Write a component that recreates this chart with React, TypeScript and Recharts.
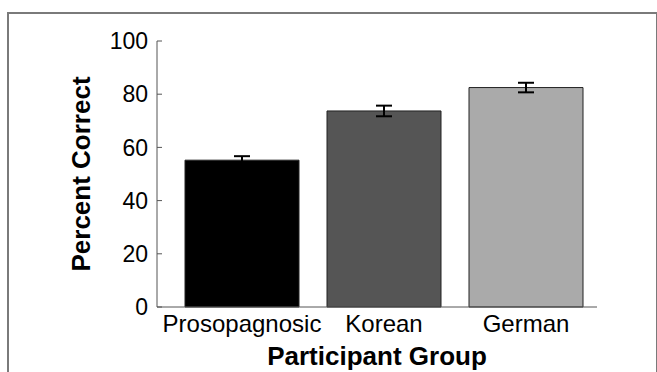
import { Bar, BarChart, Cell, ErrorBar, Label, XAxis, YAxis } from "recharts";

const groups = ["Prosopagnosic", "Korean", "German"];
const percentCorrect = [55.2, 73.7, 82.5];
const stdError = [1.5, 2.0, 1.8];
const barColors = ["#000000", "#555555", "#aaaaaa"];
const yTicks = [0, 20, 40, 60, 80, 100];

const data = groups.map((g, i) => ({ group: g, value: percentCorrect[i], err: stdError[i] }));

const font = "'Liberation Sans', Arial, sans-serif";

// y ticks: label on the left, short tick mark pointing into the plot
function YTick(props: any) {
  const { x, y, payload } = props;
  return (
    <g>
      <line x1={x + 9} x2={x + 14} y1={y} y2={y} stroke="#555" strokeWidth={1} />
      <text x={x} y={y} dy="0.355em" textAnchor="end" fontSize={23} fontFamily={font} fill="#000">
        {payload.value}
      </text>
    </g>
  );
}

function YTitle(props: any) {
  const { x, y, width, height } = props.viewBox;
  const cx = x + width - 76;
  const cy = y + height / 2;
  return (
    <text
      x={cx}
      y={cy}
      transform={`rotate(-90 ${cx} ${cy})`}
      textAnchor="middle"
      dominantBaseline="central"
      fontSize={26}
      fontWeight="bold"
      fontFamily={font}
      fill="#000"
    >
      Percent Correct
    </text>
  );
}

function XTitle(props: any) {
  const { x, y, width } = props.viewBox;
  return (
    <text
      x={x + width / 2}
      y={y + 49}
      textAnchor="middle"
      dominantBaseline="central"
      fontSize={26}
      fontWeight="bold"
      fontFamily={font}
      fill="#000"
    >
      Participant Group
    </text>
  );
}

export default function App() {
  return (
    <div style={{ position: "fixed", left: 0, top: 0, width: 657, height: 372, background: "#fff", overflow: "hidden" }}>
      <div
        style={{
          position: "absolute",
          left: 7,
          top: 12,
          width: 657 - 7 - 3,
          height: 400,
          borderTop: "2px solid #7a7a7a",
          borderLeft: "2px solid #7a7a7a",
          borderRight: "2px solid #7a7a7a",
        }}
      />
      <BarChart
        width={657}
        height={372}
        data={data}
        margin={{ top: 41, right: 60, bottom: 5, left: 97 }}
        style={{ position: "absolute", left: 0, top: 0 }}
      >
        <XAxis
          dataKey="group"
          height={60}
          padding={{ left: 14, right: 0 }}
          tickLine={false}
          tickSize={0}
          tickMargin={8}
          stroke="#555"
          tick={{ fontSize: 24, fontFamily: font, fill: "#000" }}
        >
          <Label content={<XTitle />} />
        </XAxis>
        <YAxis
          width={60}
          domain={[0, 100]}
          ticks={yTicks}
          tickLine={false}
          tickSize={0}
          tickMargin={9}
          stroke="#555"
          tick={<YTick />}
        >
          <Label content={<YTitle />} />
        </YAxis>
        <Bar dataKey="value" barSize={114} stroke="#222" strokeWidth={1} isAnimationActive={false}>
          {data.map((d, i) => (
            <Cell key={d.group} fill={barColors[i]} />
          ))}
          <ErrorBar dataKey="err" width={8} stroke="#000" strokeWidth={2} />
        </Bar>
      </BarChart>
    </div>
  );
}
